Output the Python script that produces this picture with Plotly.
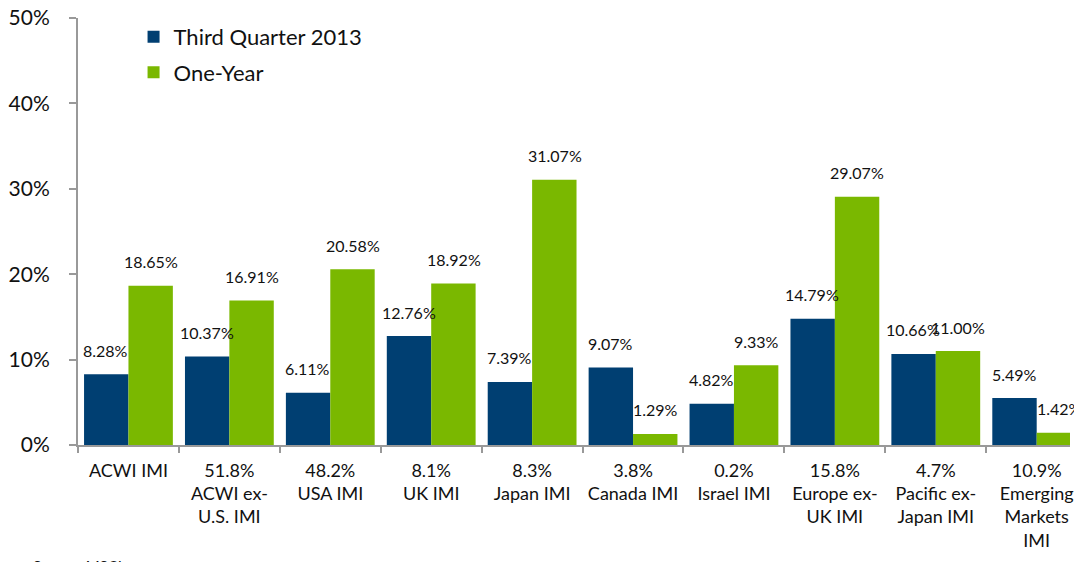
import plotly.graph_objects as go

categories = ["ACWI IMI", "51.8%<br>ACWI ex-<br>U.S. IMI", "48.2%<br>USA IMI", "8.1%<br>UK IMI",
              "8.3%<br>Japan IMI", "3.8%<br>Canada IMI", "0.2%<br>Israel IMI",
              "15.8%<br>Europe ex-<br>UK IMI", "4.7%<br>Pacific ex-<br>Japan IMI",
              "10.9%<br>Emerging<br>Markets<br>IMI"]
q3_2013 = [8.28, 10.37, 6.11, 12.76, 7.39, 9.07, 4.82, 14.79, 10.66, 5.49]
one_year = [18.65, 16.91, 20.58, 18.92, 31.07, 1.29, 9.33, 29.07, 11.00, 1.42]
y_ticks = [0, 10, 20, 30, 40, 50]

BLUE = "#003f72"
GREEN = "#7ab800"
FONT = "Lato"

fig = go.Figure()
fig.add_trace(go.Bar(x=categories, y=q3_2013, name="Third Quarter 2013",
                     marker=dict(color=BLUE, line=dict(width=0)), legendgroup="a"))
fig.add_trace(go.Bar(x=categories, y=one_year, name="One-Year",
                     marker=dict(color=GREEN, line=dict(width=0)), legendgroup="b"))

ann = []
for c, a, b in zip(categories, q3_2013, one_year):
    ann.append(dict(x=c, y=a, xref="x", yref="y", text=f"{a:.2f}%", showarrow=False,
                    xshift=-22.5, yshift=24, font=dict(size=16, color="#111", family=FONT)))
    ann.append(dict(x=c, y=b, xref="x", yref="y", text=f"{b:.2f}%", showarrow=False,
                    xshift=22.5, yshift=24, font=dict(size=16, color="#111", family=FONT)))
ann.append(dict(x=-0.047, y=-0.258, xref="paper", yref="paper", xanchor="left", yanchor="top",
                text="Source: MSCI", showarrow=False, font=dict(size=15, family=FONT, color="#111")))

fig.update_layout(
    width=1074, height=562,
    margin=dict(l=78, r=0, t=18, b=117),
    paper_bgcolor="white", plot_bgcolor="white",
    barmode="group", bargap=0.12, bargroupgap=0,
    font=dict(family=FONT, color="#111"),
    legend=dict(x=0.056, y=1.005, xanchor="left", yanchor="top",
                font=dict(size=22, family=FONT, color="#111"),
                bgcolor="rgba(0,0,0,0)", tracegroupgap=4, itemwidth=30),
    showlegend=True,
    xaxis=dict(type="category", range=[-0.5, 9.33], tickson="boundaries",
               ticks="outside", ticklen=6, tickcolor="#999", tickwidth=2,
               showline=True, linecolor="#999", linewidth=2, showgrid=False,
               tickfont=dict(size=18, family=FONT, color="#111"), tickangle=0,
               ticklabelstandoff=8),
    yaxis=dict(range=[0, 50], tickvals=y_ticks, ticktext=[f"{v}%" for v in y_ticks],
               ticks="outside", ticklen=7, tickcolor="#999", tickwidth=2,
               showline=True, linecolor="#999", linewidth=2, showgrid=False,
               zeroline=False, tickfont=dict(size=21, family=FONT, color="#111"),
               ticklabelstandoff=15),
    annotations=ann,
)
fig.write_html("out.html", config={"displayModeBar": False},
               post_script="document.body.style.margin='0';")
